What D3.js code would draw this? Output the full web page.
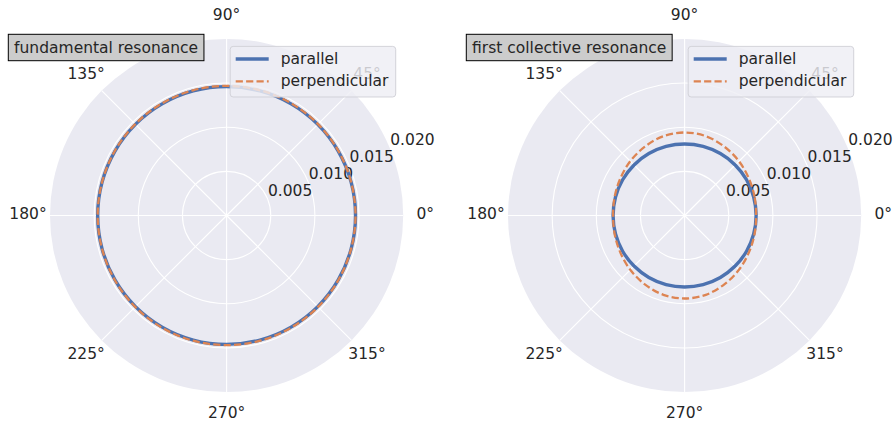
<!DOCTYPE html>
<html>
<head>
<meta charset="utf-8">
<script src="https://cdn.jsdelivr.net/npm/d3@7"></script>
<style>
  html, body { margin: 0; padding: 0; background: #ffffff; }
  svg { display: block; }
  text { font-family: "DejaVu Sans", sans-serif; fill: #262626; }
</style>
</head>
<body>
<svg id="chart" width="896" height="421"></svg>
<script>
// ---- data ----
const angles = [0, 15, 30, 45, 60, 75, 90, 105, 120, 135, 150, 165,
                180, 195, 210, 225, 240, 255, 270, 285, 300, 315, 330, 345];
const fundamentalParallel = [0.0146, 0.0146, 0.0146, 0.0146, 0.0146, 0.0146, 0.0146, 0.0146, 0.0146, 0.0146, 0.0146, 0.0146,
                             0.0146, 0.0146, 0.0146, 0.0146, 0.0146, 0.0146, 0.0146, 0.0146, 0.0146, 0.0146, 0.0146, 0.0146];
const fundamentalPerpendicular = [0.0146, 0.0146, 0.01462, 0.01464, 0.01466, 0.01468, 0.01468, 0.01468, 0.01466, 0.01464, 0.01462, 0.0146,
                                  0.0146, 0.0146, 0.01462, 0.01464, 0.01466, 0.01468, 0.01468, 0.01468, 0.01466, 0.01464, 0.01462, 0.0146];
const collectiveParallel = [0.0081, 0.0081, 0.0081, 0.0081, 0.0081, 0.0081, 0.0081, 0.0081, 0.0081, 0.0081, 0.0081, 0.0081,
                            0.0081, 0.0081, 0.0081, 0.0081, 0.0081, 0.0081, 0.0081, 0.0081, 0.0081, 0.0081, 0.0081, 0.0081];
const collectivePerpendicular = [0.0081, 0.0082, 0.0084, 0.0087, 0.0090, 0.0093, 0.0094, 0.0093, 0.0090, 0.0087, 0.0084, 0.0082,
                                 0.0081, 0.0082, 0.0084, 0.0087, 0.0090, 0.0093, 0.0094, 0.0093, 0.0090, 0.0087, 0.0084, 0.0082];
const angleTicks = [0, 45, 90, 135, 180, 225, 270, 315];
const angleTickLabels = ["0°", "45°", "90°", "135°", "180°", "225°", "270°", "315°"];
const radialTicks = [0.005, 0.010, 0.015, 0.020];
const radialTickLabels = ["0.005", "0.010", "0.015", "0.020"];
const seriesNames = ["parallel", "perpendicular"];
const panelTitles = ["fundamental resonance", "first collective resonance"];
const panels = [
  { title: panelTitles[0], series: [fundamentalParallel, fundamentalPerpendicular] },
  { title: panelTitles[1], series: [collectiveParallel, collectivePerpendicular] }
];

// ---- styles ----
const colors = ["#4C72B0", "#DD8452"];
const widths = [3.4, 2.3];
const dashes = [null, "7.2,3.2"];
const FS = 15.5;

const svg = d3.select("#chart");
const R = 176.6;
const centers = [[226.6, 215.5], [684.6, 215.5]];
const rScale = d3.scaleLinear().domain([0, 0.02]).range([0, R]);
const toRad = d => d * Math.PI / 180;

panels.forEach((p, i) => {
  const [cx, cy] = centers[i];
  const g = svg.append("g").attr("transform", `translate(${cx},${cy})`);

  // background disc
  g.append("circle").attr("r", rScale(0.02)).attr("fill", "#EAEAF2");

  // radial grid circles
  g.selectAll("circle.grid").data(radialTicks.slice(0, -1)).join("circle")
    .attr("class", "grid").attr("r", d => rScale(d))
    .attr("fill", "none").attr("stroke", "#ffffff").attr("stroke-width", 1.1);

  // angular grid lines
  g.selectAll("line.spoke").data(angleTicks).join("line")
    .attr("class", "spoke")
    .attr("x1", 0).attr("y1", 0)
    .attr("x2", d => rScale(0.02) * Math.cos(toRad(d)))
    .attr("y2", d => -rScale(0.02) * Math.sin(toRad(d)))
    .attr("stroke", "#ffffff").attr("stroke-width", 1.1);

  // radial tick labels at 22.5°
  const la = toRad(22.5);
  g.selectAll("text.rtick").data(radialTicks).join("text")
    .attr("class", "rtick")
    .attr("x", d => rScale(d) * Math.cos(la) + 0.5)
    .attr("y", d => -rScale(d) * Math.sin(la) - 2.5)
    .attr("font-size", FS)
    .text((d, k) => radialTickLabels[k]);

  // angle labels
  const labR = R + 22;
  g.selectAll("text.atick").data(angleTicks).join("text")
    .attr("class", "atick")
    .attr("x", d => labR * Math.cos(toRad(d)))
    .attr("y", d => -labR * Math.sin(toRad(d)) - 1.5)
    .attr("text-anchor", "middle")
    .attr("dominant-baseline", "central")
    .attr("font-size", FS)
    .text((d, k) => angleTickLabels[k]);

  // data curves
  const line = d3.lineRadial()
    .angle(d => Math.PI / 2 - toRad(d[0]))
    .radius(d => rScale(d[1]))
    .curve(d3.curveCatmullRomClosed);
  p.series.forEach((vals, s) => {
    g.append("path")
      .datum(angles.map((a, k) => [a, vals[k]]))
      .attr("d", line)
      .attr("fill", "none")
      .attr("stroke", colors[s])
      .attr("stroke-width", widths[s])
      .attr("stroke-dasharray", dashes[s]);
  });

  // legend (upper right)
  const lw = 165.5, lh = 50.6;
  const lg = g.append("g").attr("transform", `translate(${R - 7.5 - lw},${-R + 7.5})`);
  lg.append("rect").attr("x", 0).attr("y", 0).attr("width", lw).attr("height", lh)
    .attr("rx", 3).attr("ry", 3)
    .attr("fill", "#EEEEF4").attr("fill-opacity", 0.82)
    .attr("stroke", "#cfcfd6").attr("stroke-opacity", 0.9).attr("stroke-width", 1);
  seriesNames.forEach((name, s) => {
    const yy = 12.6 + s * 22.4;
    lg.append("line").attr("x1", 5.5).attr("x2", 38.5).attr("y1", yy).attr("y2", yy)
      .attr("stroke", colors[s]).attr("stroke-width", widths[s])
      .attr("stroke-dasharray", dashes[s]);
    lg.append("text").attr("x", 50.5).attr("y", yy).attr("dominant-baseline", "central")
      .attr("font-size", FS).text(name);
  });
});

// title boxes
const titleLefts = [8.3, 466.3];
panels.forEach((p, i) => {
  const tg = svg.append("g");
  const t = tg.append("text").attr("x", titleLefts[i] + 5.8).attr("y", 47.5)
    .attr("dominant-baseline", "central").attr("font-size", FS).text(p.title);
  const w = t.node().getComputedTextLength();
  tg.insert("rect", "text")
    .attr("x", titleLefts[i]).attr("y", 34.3)
    .attr("width", w + 11.6).attr("height", 26.4)
    .attr("fill", "#cccccc").attr("stroke", "#000000").attr("stroke-width", 1);
});
</script>
</body>
</html>
